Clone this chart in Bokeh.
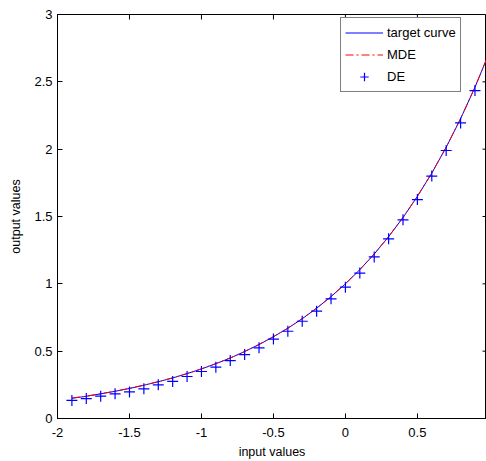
import math
from bokeh.plotting import figure
from bokeh.models import FixedTicker, Legend, LegendItem, Range1d
from bokeh.embed import file_html
from bokeh.resources import INLINE

# ---- data ----
target_x = [-1.9, -1.8, -1.7, -1.6, -1.5, -1.4, -1.3, -1.2, -1.1, -1.0,
            -0.9, -0.8, -0.7, -0.6, -0.5, -0.4, -0.3, -0.2, -0.1, 0.0,
            0.1, 0.2, 0.3, 0.4, 0.5, 0.6, 0.7, 0.8, 0.9, 1.0]
target_y = [0.150, 0.165, 0.183, 0.202, 0.223, 0.247, 0.273, 0.301, 0.333, 0.368,
            0.407, 0.449, 0.497, 0.549, 0.607, 0.670, 0.741, 0.819, 0.905, 1.000,
            1.105, 1.221, 1.350, 1.492, 1.649, 1.822, 2.014, 2.226, 2.460, 2.718]

mde_x = target_x
mde_y = [0.152, 0.166, 0.184, 0.203, 0.224, 0.248, 0.274, 0.302, 0.334, 0.369,
         0.408, 0.450, 0.498, 0.550, 0.608, 0.671, 0.742, 0.820, 0.906, 1.001,
         1.106, 1.222, 1.351, 1.493, 1.650, 1.823, 2.015, 2.227, 2.461, 2.719]

de_x = [-1.9, -1.8, -1.7, -1.6, -1.5, -1.4, -1.3, -1.2, -1.1, -1.0,
        -0.9, -0.8, -0.7, -0.6, -0.5, -0.4, -0.3, -0.2, -0.1, 0.0,
        0.1, 0.2, 0.3, 0.4, 0.5, 0.6, 0.7, 0.8, 0.9]
de_y = [0.134, 0.148, 0.166, 0.183, 0.197, 0.220, 0.250, 0.275, 0.312, 0.349,
        0.381, 0.430, 0.475, 0.525, 0.590, 0.648, 0.722, 0.797, 0.889, 0.975,
        1.080, 1.200, 1.334, 1.475, 1.626, 1.800, 1.990, 2.195, 2.435]

x_ticks = [-2, -1.5, -1, -0.5, 0, 0.5]
x_tick_labels = ["-2", "-1.5", "-1", "-0.5", "0", "0.5"]
y_ticks = [0, 0.5, 1, 1.5, 2, 2.5, 3]
y_tick_labels = ["0", "0.5", "1", "1.5", "2", "2.5", "3"]
x_min, x_max = -2, 0.98
y_min, y_max = 0, 3

FONT = "Liberation Sans"

p = figure(width=486, height=461, output_backend="svg", toolbar_location=None,
           x_range=Range1d(x_min, x_max), y_range=Range1d(y_min, y_max),
           min_border_left=57, min_border_right=0, min_border_top=14,
           min_border_bottom=43, background_fill_color="white",
           border_fill_color="white")
p.grid.visible = False
p.outline_line_color = "black"
p.outline_line_width = 1

for ax, ticks, labels in ((p.xaxis[0], x_ticks, x_tick_labels),
                          (p.yaxis[0], y_ticks, y_tick_labels)):
    ax.ticker = FixedTicker(ticks=ticks)
    ax.major_label_overrides = {t: l for t, l in zip(ticks, labels)}
    ax.minor_tick_line_color = None
    ax.major_tick_in = 5
    ax.major_tick_out = 0
    ax.axis_line_color = "black"
    ax.major_tick_line_color = "black"
    ax.major_label_text_font = FONT
    ax.major_label_text_font_size = "13px"
    ax.major_label_text_color = "black"
    ax.axis_label_text_font = FONT
    ax.axis_label_text_font_size = "12.5px"
    ax.axis_label_text_font_style = "normal"
    ax.axis_label_text_color = "black"

p.xaxis.axis_label = "input values"
p.yaxis.axis_label = "output values"
p.xaxis.major_label_standoff = 9
p.xaxis.axis_label_standoff = 5
p.yaxis.major_label_standoff = 5
p.yaxis.axis_label_standoff = 8

# inward ticks on the top and right edges of the box (half of each dash is clipped)
p.scatter(x_ticks, [y_max] * len(x_ticks), marker="dash", angle=math.pi / 2,
          size=10, line_color="black", line_width=1)
p.scatter([x_max] * len(y_ticks), y_ticks, marker="dash", size=8,
          line_color="black", line_width=1)

r_target = p.line(target_x, target_y, line_color="#0000ff", line_width=1)
r_mde = p.line(mde_x, mde_y, line_color="#ff0000", line_width=1, line_dash="8 3 2 3")
r_de = p.scatter(de_x, de_y, marker="cross", size=11, line_color="#0000ff",
                 line_width=1.2)

legend = Legend(items=[LegendItem(label="target curve", renderers=[r_target]),
                       LegendItem(label="MDE", renderers=[r_mde]),
                       LegendItem(label="DE", renderers=[r_de])],
                location=(283, 326), margin=0, padding=4, spacing=1,
                glyph_width=38, glyph_height=21, label_height=21,
                label_standoff=4, label_text_font=FONT,
                label_text_font_size="13px", label_text_color="black",
                border_line_color="black", border_line_width=1,
                background_fill_color="white", background_fill_alpha=1)
p.add_layout(legend, "center")

open("out.html", "w").write(file_html(p, INLINE))
